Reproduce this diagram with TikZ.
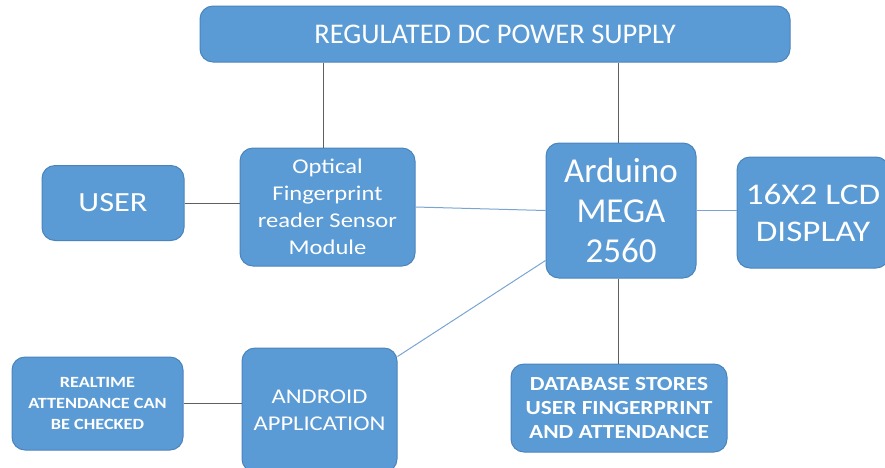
\documentclass[tikz,border=0pt]{standalone}
\usepackage{fontspec}
\setmainfont[FakeStretch=1.17]{Carlito}
\newfontfamily\plainfont{Carlito}
\usetikzlibrary{positioning, calc}
\definecolor{boxblue}{HTML}{5B9BD5}
\definecolor{boxedge}{HTML}{4A84BD}
\definecolor{wiregray}{HTML}{5F5F5F}
\definecolor{wireblue}{HTML}{7AA5D3}
\tikzstyle{block} = [rectangle, draw=boxedge, fill=boxblue, text=white,
    align=center, inner sep=0pt, rounded corners=13pt, line width=1pt]
\tikzstyle{wire} = [draw=wiregray, line width=1pt]
\tikzstyle{bluewire} = [draw=wireblue, line width=1pt]

\begin{document}
\begin{tikzpicture}[x=1pt, y=-1pt]
  \useasboundingbox (0,0) rectangle (885,467);
   % Place nodes
    \node [block, minimum width=590pt, minimum height=56pt,
      font=\plainfont\fontsize{28.5}{32}\selectfont] (psu) at (495,34) {REGULATED DC POWER SUPPLY};
    \node [block, minimum width=142pt, minimum height=75pt,
      font=\fontsize{27.7}{32}\selectfont] (user) at (113,203) {USER};
    \node [block, minimum width=175pt, minimum height=118pt,
      font=\fontsize{21}{27}\selectfont] (sensor) at (327.5,207) {Optical\\Fingerprint\\reader Sensor\\Module};
    \node [block, minimum width=150pt, minimum height=135pt,
      font=\plainfont\fontsize{35}{40}\selectfont] (mega) at (621,210.5) {Arduino\\MEGA\\2560};
    \node [block, minimum width=152pt, minimum height=111pt,
      font=\fontsize{30}{37}\selectfont] (lcd) at (813,212.5) {16X2 LCD\\DISPLAY};
    \node [block, minimum width=171pt, minimum height=93pt,
      font=\fontsize{15.6}{21}\selectfont\bfseries] (realtime) at (97.5,403.5) {REALTIME\\ATTENDANCE CAN\\BE CHECKED};
    \node [block, minimum width=155pt, minimum height=124pt,
      font=\fontsize{21}{27}\selectfont] (android) at (319.5,410) {ANDROID\\APPLICATION};
    \node [block, minimum width=216pt, minimum height=88pt,
      font=\fontsize{20}{24}\selectfont\bfseries] (database) at (619,408) {DATABASE STORES\\USER FINGERPRINT\\AND ATTENDANCE};
   % Draw edges
    \draw [wire] ([xshift=-4pt]sensor.north) -- ([xshift=-4pt]sensor.north |- psu.south);
    \draw [wire] ([xshift=-3pt]mega.north) -- ([xshift=-3pt]mega.north |- psu.south);
    \draw [wire] (user.east) -- (user.east -| sensor.west);
    \draw [bluewire] (sensor.east) -- (mega.west);
    \draw [bluewire] (mega.east) -- (mega.east -| lcd.west);
    \draw [bluewire] ([yshift=-50pt]mega.west) -- ([yshift=-9pt]android.north east);
    \draw [wire] ([xshift=-3pt]mega.south) -- ([xshift=-3pt]mega.south |- database.north);
    \draw [wire] (realtime.east) -- (realtime.east -| android.west);
\end{tikzpicture}
\end{document}
